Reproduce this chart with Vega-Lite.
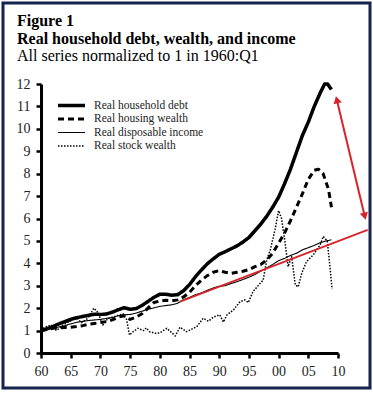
{
  "$schema": "https://vega.github.io/schema/vega-lite/v6.json",
  "width": 297,
  "height": 269,
  "autosize": "none",
  "padding": {"left": 41, "top": 84, "right": 35, "bottom": 41},
  "background": "white",
  "title": {
    "text": ["Figure 1", "Real household debt, wealth, and income"],
    "subtitle": "All series normalized to 1 in 1960:Q1",
    "anchor": "start",
    "frame": "group",
    "dx": -24,
    "dy": 64,
    "offset": 2,
    "font": "Liberation Serif",
    "fontSize": 16,
    "fontWeight": "bold",
    "lineHeight": 18,
    "color": "black",
    "subtitleFont": "Liberation Serif",
    "subtitleFontSize": 16,
    "subtitleColor": "black",
    "subtitlePadding": 1
  },
  "datasets": {
    "series": [
      {"series": "Real household debt", "year": 1960, "value": 1.0},
      {"series": "Real household debt", "year": 1961, "value": 1.08},
      {"series": "Real household debt", "year": 1962, "value": 1.18},
      {"series": "Real household debt", "year": 1963, "value": 1.3},
      {"series": "Real household debt", "year": 1964, "value": 1.4},
      {"series": "Real household debt", "year": 1965, "value": 1.5},
      {"series": "Real household debt", "year": 1966, "value": 1.57},
      {"series": "Real household debt", "year": 1967, "value": 1.63},
      {"series": "Real household debt", "year": 1968, "value": 1.68},
      {"series": "Real household debt", "year": 1969, "value": 1.73},
      {"series": "Real household debt", "year": 1970, "value": 1.72},
      {"series": "Real household debt", "year": 1971, "value": 1.74},
      {"series": "Real household debt", "year": 1972, "value": 1.82},
      {"series": "Real household debt", "year": 1973, "value": 1.93},
      {"series": "Real household debt", "year": 1974, "value": 2.02},
      {"series": "Real household debt", "year": 1975, "value": 1.95},
      {"series": "Real household debt", "year": 1976, "value": 1.98},
      {"series": "Real household debt", "year": 1977, "value": 2.12},
      {"series": "Real household debt", "year": 1978, "value": 2.3},
      {"series": "Real household debt", "year": 1979, "value": 2.48},
      {"series": "Real household debt", "year": 1980, "value": 2.62},
      {"series": "Real household debt", "year": 1981, "value": 2.62},
      {"series": "Real household debt", "year": 1982, "value": 2.58},
      {"series": "Real household debt", "year": 1983, "value": 2.6},
      {"series": "Real household debt", "year": 1984, "value": 2.78},
      {"series": "Real household debt", "year": 1985, "value": 3.05},
      {"series": "Real household debt", "year": 1986, "value": 3.4},
      {"series": "Real household debt", "year": 1987, "value": 3.7},
      {"series": "Real household debt", "year": 1988, "value": 3.98},
      {"series": "Real household debt", "year": 1989, "value": 4.2},
      {"series": "Real household debt", "year": 1990, "value": 4.4},
      {"series": "Real household debt", "year": 1991, "value": 4.52},
      {"series": "Real household debt", "year": 1992, "value": 4.65},
      {"series": "Real household debt", "year": 1993, "value": 4.78},
      {"series": "Real household debt", "year": 1994, "value": 4.95},
      {"series": "Real household debt", "year": 1995, "value": 5.15},
      {"series": "Real household debt", "year": 1996, "value": 5.45},
      {"series": "Real household debt", "year": 1997, "value": 5.75},
      {"series": "Real household debt", "year": 1998, "value": 6.1},
      {"series": "Real household debt", "year": 1999, "value": 6.5},
      {"series": "Real household debt", "year": 2000, "value": 6.95},
      {"series": "Real household debt", "year": 2001, "value": 7.55},
      {"series": "Real household debt", "year": 2002, "value": 8.2},
      {"series": "Real household debt", "year": 2003, "value": 8.95},
      {"series": "Real household debt", "year": 2004, "value": 9.7},
      {"series": "Real household debt", "year": 2005, "value": 10.3},
      {"series": "Real household debt", "year": 2006, "value": 11.0},
      {"series": "Real household debt", "year": 2007, "value": 11.6},
      {"series": "Real household debt", "year": 2007.75, "value": 12.0},
      {"series": "Real household debt", "year": 2008.25, "value": 12.0},
      {"series": "Real household debt", "year": 2008.9, "value": 11.75},

      {"series": "Real housing wealth", "year": 1960, "value": 1.0},
      {"series": "Real housing wealth", "year": 1961, "value": 1.05},
      {"series": "Real housing wealth", "year": 1962, "value": 1.1},
      {"series": "Real housing wealth", "year": 1963, "value": 1.12},
      {"series": "Real housing wealth", "year": 1964, "value": 1.14},
      {"series": "Real housing wealth", "year": 1965, "value": 1.15},
      {"series": "Real housing wealth", "year": 1966, "value": 1.18},
      {"series": "Real housing wealth", "year": 1967, "value": 1.22},
      {"series": "Real housing wealth", "year": 1968, "value": 1.28},
      {"series": "Real housing wealth", "year": 1969, "value": 1.32},
      {"series": "Real housing wealth", "year": 1970, "value": 1.36},
      {"series": "Real housing wealth", "year": 1971, "value": 1.4},
      {"series": "Real housing wealth", "year": 1972, "value": 1.48},
      {"series": "Real housing wealth", "year": 1973, "value": 1.6},
      {"series": "Real housing wealth", "year": 1974, "value": 1.66},
      {"series": "Real housing wealth", "year": 1975, "value": 1.5},
      {"series": "Real housing wealth", "year": 1976, "value": 1.6},
      {"series": "Real housing wealth", "year": 1977, "value": 1.75},
      {"series": "Real housing wealth", "year": 1978, "value": 2.0},
      {"series": "Real housing wealth", "year": 1979, "value": 2.25},
      {"series": "Real housing wealth", "year": 1980, "value": 2.32},
      {"series": "Real housing wealth", "year": 1981, "value": 2.35},
      {"series": "Real housing wealth", "year": 1982, "value": 2.33},
      {"series": "Real housing wealth", "year": 1983, "value": 2.37},
      {"series": "Real housing wealth", "year": 1984, "value": 2.5},
      {"series": "Real housing wealth", "year": 1985, "value": 2.7},
      {"series": "Real housing wealth", "year": 1986, "value": 3.0},
      {"series": "Real housing wealth", "year": 1987, "value": 3.25},
      {"series": "Real housing wealth", "year": 1988, "value": 3.45},
      {"series": "Real housing wealth", "year": 1989, "value": 3.6},
      {"series": "Real housing wealth", "year": 1990, "value": 3.68},
      {"series": "Real housing wealth", "year": 1991, "value": 3.6},
      {"series": "Real housing wealth", "year": 1992, "value": 3.55},
      {"series": "Real housing wealth", "year": 1993, "value": 3.6},
      {"series": "Real housing wealth", "year": 1994, "value": 3.65},
      {"series": "Real housing wealth", "year": 1995, "value": 3.72},
      {"series": "Real housing wealth", "year": 1996, "value": 3.85},
      {"series": "Real housing wealth", "year": 1997, "value": 3.95},
      {"series": "Real housing wealth", "year": 1998, "value": 4.15},
      {"series": "Real housing wealth", "year": 1999, "value": 4.45},
      {"series": "Real housing wealth", "year": 2000, "value": 4.9},
      {"series": "Real housing wealth", "year": 2001, "value": 5.35},
      {"series": "Real housing wealth", "year": 2002, "value": 5.9},
      {"series": "Real housing wealth", "year": 2003, "value": 6.5},
      {"series": "Real housing wealth", "year": 2004, "value": 7.1},
      {"series": "Real housing wealth", "year": 2005, "value": 7.75},
      {"series": "Real housing wealth", "year": 2006, "value": 8.15},
      {"series": "Real housing wealth", "year": 2006.7, "value": 8.2},
      {"series": "Real housing wealth", "year": 2007.5, "value": 8.0},
      {"series": "Real housing wealth", "year": 2008.4, "value": 7.3},
      {"series": "Real housing wealth", "year": 2008.9, "value": 6.5},

      {"series": "Real disposable income", "year": 1960, "value": 1.0},
      {"series": "Real disposable income", "year": 1962, "value": 1.1},
      {"series": "Real disposable income", "year": 1964, "value": 1.22},
      {"series": "Real disposable income", "year": 1965, "value": 1.3},
      {"series": "Real disposable income", "year": 1966, "value": 1.37},
      {"series": "Real disposable income", "year": 1968, "value": 1.45},
      {"series": "Real disposable income", "year": 1970, "value": 1.5},
      {"series": "Real disposable income", "year": 1972, "value": 1.58},
      {"series": "Real disposable income", "year": 1973, "value": 1.66},
      {"series": "Real disposable income", "year": 1974, "value": 1.7},
      {"series": "Real disposable income", "year": 1975, "value": 1.72},
      {"series": "Real disposable income", "year": 1976, "value": 1.78},
      {"series": "Real disposable income", "year": 1978, "value": 1.95},
      {"series": "Real disposable income", "year": 1980, "value": 2.08},
      {"series": "Real disposable income", "year": 1982, "value": 2.15},
      {"series": "Real disposable income", "year": 1983, "value": 2.22},
      {"series": "Real disposable income", "year": 1984, "value": 2.38},
      {"series": "Real disposable income", "year": 1985, "value": 2.48},
      {"series": "Real disposable income", "year": 1986, "value": 2.6},
      {"series": "Real disposable income", "year": 1987, "value": 2.68},
      {"series": "Real disposable income", "year": 1988, "value": 2.8},
      {"series": "Real disposable income", "year": 1989, "value": 2.9},
      {"series": "Real disposable income", "year": 1990, "value": 2.98},
      {"series": "Real disposable income", "year": 1991, "value": 3.0},
      {"series": "Real disposable income", "year": 1992, "value": 3.1},
      {"series": "Real disposable income", "year": 1993, "value": 3.18},
      {"series": "Real disposable income", "year": 1994, "value": 3.28},
      {"series": "Real disposable income", "year": 1995, "value": 3.38},
      {"series": "Real disposable income", "year": 1996, "value": 3.5},
      {"series": "Real disposable income", "year": 1997, "value": 3.65},
      {"series": "Real disposable income", "year": 1998, "value": 3.8},
      {"series": "Real disposable income", "year": 1999, "value": 3.95},
      {"series": "Real disposable income", "year": 2000, "value": 4.12},
      {"series": "Real disposable income", "year": 2001, "value": 4.22},
      {"series": "Real disposable income", "year": 2002, "value": 4.35},
      {"series": "Real disposable income", "year": 2003, "value": 4.45},
      {"series": "Real disposable income", "year": 2004, "value": 4.6},
      {"series": "Real disposable income", "year": 2005, "value": 4.7},
      {"series": "Real disposable income", "year": 2006, "value": 4.8},
      {"series": "Real disposable income", "year": 2007, "value": 4.92},
      {"series": "Real disposable income", "year": 2008, "value": 5.0},
      {"series": "Real disposable income", "year": 2008.9, "value": 5.05},

      {"series": "Real stock wealth", "year": 1960, "value": 1.0},
      {"series": "Real stock wealth", "year": 1960.6, "value": 1.15},
      {"series": "Real stock wealth", "year": 1961.7, "value": 1.25},
      {"series": "Real stock wealth", "year": 1962.6, "value": 1.0},
      {"series": "Real stock wealth", "year": 1963.7, "value": 1.25},
      {"series": "Real stock wealth", "year": 1965.1, "value": 1.45},
      {"series": "Real stock wealth", "year": 1965.9, "value": 1.6},
      {"series": "Real stock wealth", "year": 1966.8, "value": 1.35},
      {"series": "Real stock wealth", "year": 1967.9, "value": 1.55},
      {"series": "Real stock wealth", "year": 1968.9, "value": 2.0},
      {"series": "Real stock wealth", "year": 1969.6, "value": 1.8},
      {"series": "Real stock wealth", "year": 1970.4, "value": 1.25},
      {"series": "Real stock wealth", "year": 1971.3, "value": 1.55},
      {"series": "Real stock wealth", "year": 1972.7, "value": 1.65},
      {"series": "Real stock wealth", "year": 1973.8, "value": 1.75},
      {"series": "Real stock wealth", "year": 1974.4, "value": 1.5},
      {"series": "Real stock wealth", "year": 1974.9, "value": 0.8},
      {"series": "Real stock wealth", "year": 1975.5, "value": 0.95},
      {"series": "Real stock wealth", "year": 1976.3, "value": 1.1},
      {"series": "Real stock wealth", "year": 1977.3, "value": 1.0},
      {"series": "Real stock wealth", "year": 1977.7, "value": 1.12},
      {"series": "Real stock wealth", "year": 1978.3, "value": 0.95},
      {"series": "Real stock wealth", "year": 1979.2, "value": 0.88},
      {"series": "Real stock wealth", "year": 1980, "value": 0.9},
      {"series": "Real stock wealth", "year": 1981.2, "value": 1.1},
      {"series": "Real stock wealth", "year": 1982.6, "value": 0.76},
      {"series": "Real stock wealth", "year": 1983.4, "value": 1.15},
      {"series": "Real stock wealth", "year": 1984.5, "value": 0.95},
      {"series": "Real stock wealth", "year": 1986.2, "value": 1.17},
      {"series": "Real stock wealth", "year": 1987.3, "value": 1.55},
      {"series": "Real stock wealth", "year": 1988.2, "value": 1.42},
      {"series": "Real stock wealth", "year": 1989, "value": 1.6},
      {"series": "Real stock wealth", "year": 1990.1, "value": 1.7},
      {"series": "Real stock wealth", "year": 1990.7, "value": 1.38},
      {"series": "Real stock wealth", "year": 1991.3, "value": 1.7},
      {"series": "Real stock wealth", "year": 1992.4, "value": 1.92},
      {"series": "Real stock wealth", "year": 1993.5, "value": 2.29},
      {"series": "Real stock wealth", "year": 1994.3, "value": 2.37},
      {"series": "Real stock wealth", "year": 1994.9, "value": 2.25},
      {"series": "Real stock wealth", "year": 1995.7, "value": 2.74},
      {"series": "Real stock wealth", "year": 1996.9, "value": 3.11},
      {"series": "Real stock wealth", "year": 1997.4, "value": 3.25},
      {"series": "Real stock wealth", "year": 1998, "value": 4.15},
      {"series": "Real stock wealth", "year": 1998.6, "value": 4.6},
      {"series": "Real stock wealth", "year": 1999.4, "value": 5.5},
      {"series": "Real stock wealth", "year": 2000, "value": 6.35},
      {"series": "Real stock wealth", "year": 2000.5, "value": 6.0},
      {"series": "Real stock wealth", "year": 2001.1, "value": 4.9},
      {"series": "Real stock wealth", "year": 2001.6, "value": 3.85},
      {"series": "Real stock wealth", "year": 2002.2, "value": 4.3},
      {"series": "Real stock wealth", "year": 2002.8, "value": 3.04},
      {"series": "Real stock wealth", "year": 2003.3, "value": 2.95},
      {"series": "Real stock wealth", "year": 2003.9, "value": 3.56},
      {"series": "Real stock wealth", "year": 2004.7, "value": 4.08},
      {"series": "Real stock wealth", "year": 2005.8, "value": 4.37},
      {"series": "Real stock wealth", "year": 2007, "value": 4.82},
      {"series": "Real stock wealth", "year": 2007.5, "value": 5.2},
      {"series": "Real stock wealth", "year": 2008.2, "value": 5.0},
      {"series": "Real stock wealth", "year": 2008.7, "value": 3.7},
      {"series": "Real stock wealth", "year": 2009, "value": 2.85}
    ],
    "trend": [
      {"year": 1983.4, "value": 2.29},
      {"year": 2015, "value": 5.49}
    ],
    "arrow": [
      {"year": 2009.8, "value": 11.3, "year2": 2014.5, "value2": 6.1}
    ],
    "heads": [
      {"end": "top", "year": 2009.8, "value": 11.3},
      {"end": "bottom", "year": 2014.5, "value": 6.1}
    ]
  },
  "layer": [
    {
      "data": {"values": [{}]},
      "mark": {
        "type": "rect",
        "x": -38,
        "x2": {"expr": "width + 32"},
        "y": -81,
        "y2": {"expr": "height + 35"},
        "fill": null,
        "stroke": "#14234f",
        "strokeWidth": 3
      },
      "encoding": {}
    },
    {
      "data": {"name": "series"},
      "mark": {"type": "line", "color": "black", "strokeCap": "butt", "strokeJoin": "round"},
      "encoding": {
        "x": {
          "field": "year",
          "type": "quantitative",
          "scale": {"domain": [1960, 2010], "nice": false, "zero": false},
          "axis": {
            "values": [1960, 1965, 1970, 1975, 1980, 1985, 1990, 1995, 2000, 2005, 2010],
            "labelExpr": "substring(toString(datum.value), 2, 4)",
            "labelOverlap": false,
            "title": null
          }
        },
        "y": {
          "field": "value",
          "type": "quantitative",
          "scale": {"domain": [0, 12], "nice": false},
          "axis": {
            "values": [0, 1, 2, 3, 4, 5, 6, 7, 8, 9, 10, 11, 12],
            "labelOverlap": false,
            "title": null
          }
        },
        "strokeDash": {
          "field": "series",
          "type": "nominal",
          "scale": {
            "domain": ["Real household debt", "Real housing wealth", "Real disposable income", "Real stock wealth"],
            "range": [[1, 0], [6, 4], [1, 0], [1.5, 1.5]]
          },
          "legend": {"title": null}
        },
        "strokeWidth": {
          "field": "series",
          "type": "nominal",
          "scale": {
            "type": "ordinal",
            "domain": ["Real household debt", "Real housing wealth", "Real disposable income", "Real stock wealth"],
            "range": [3.5, 3, 1.1, 1.5]
          },
          "legend": {"title": null}
        }
      }
    },
    {
      "data": {"name": "trend"},
      "mark": {"type": "line", "color": "#d8232a", "strokeWidth": 1.8},
      "encoding": {
        "x": {
          "field": "year",
          "type": "quantitative",
          "scale": {"domain": [1960, 2010], "nice": false, "zero": false},
          "axis": {
            "values": [1960, 1965, 1970, 1975, 1980, 1985, 1990, 1995, 2000, 2005, 2010],
            "labelExpr": "substring(toString(datum.value), 2, 4)",
            "labelOverlap": false,
            "title": null
          }
        },
        "y": {
          "field": "value",
          "type": "quantitative",
          "scale": {"domain": [0, 12], "nice": false},
          "axis": {
            "values": [0, 1, 2, 3, 4, 5, 6, 7, 8, 9, 10, 11, 12],
            "labelOverlap": false,
            "title": null
          }
        }
      }
    },
    {
      "data": {"name": "arrow"},
      "mark": {"type": "rule", "color": "#d8232a", "strokeWidth": 2},
      "encoding": {
        "x": {
          "field": "year",
          "type": "quantitative",
          "scale": {"domain": [1960, 2010], "nice": false, "zero": false},
          "axis": {
            "values": [1960, 1965, 1970, 1975, 1980, 1985, 1990, 1995, 2000, 2005, 2010],
            "labelExpr": "substring(toString(datum.value), 2, 4)",
            "labelOverlap": false,
            "title": null
          }
        },
        "y": {
          "field": "value",
          "type": "quantitative",
          "scale": {"domain": [0, 12], "nice": false},
          "axis": {
            "values": [0, 1, 2, 3, 4, 5, 6, 7, 8, 9, 10, 11, 12],
            "labelOverlap": false,
            "title": null
          }
        },
        "x2": {"field": "year2"},
        "y2": {"field": "value2"}
      }
    },
    {
      "data": {"name": "heads"},
      "mark": {"type": "point", "filled": true, "color": "#d8232a", "opacity": 1, "angle": 346, "size": 70},
      "encoding": {
        "x": {
          "field": "year",
          "type": "quantitative",
          "scale": {"domain": [1960, 2010], "nice": false, "zero": false},
          "axis": {
            "values": [1960, 1965, 1970, 1975, 1980, 1985, 1990, 1995, 2000, 2005, 2010],
            "labelExpr": "substring(toString(datum.value), 2, 4)",
            "labelOverlap": false,
            "title": null
          }
        },
        "y": {
          "field": "value",
          "type": "quantitative",
          "scale": {"domain": [0, 12], "nice": false},
          "axis": {
            "values": [0, 1, 2, 3, 4, 5, 6, 7, 8, 9, 10, 11, 12],
            "labelOverlap": false,
            "title": null
          }
        },
        "shape": {
          "field": "end",
          "type": "nominal",
          "scale": {"domain": ["top", "bottom"], "range": ["triangle-up", "triangle-down"]},
          "legend": null
        }
      }
    }
  ],
  "config": {
    "view": {"stroke": null},
    "axis": {
      "grid": false,
      "domainColor": "black",
      "domainWidth": 3,
      "tickColor": "black",
      "tickWidth": 2.5,
      "tickSize": 5,
      "labelFont": "Liberation Serif",
      "labelFontSize": 14,
      "labelColor": "#222",
      "labelPadding": 6,
      "labelOverlap": false,
      "labelBound": false,
      "labelFlush": false
    },
    "legend": {
      "orient": "none",
      "legendX": 15,
      "legendY": 15.5,
      "padding": 0,
      "symbolType": "stroke",
      "symbolSize": 729,
      "symbolStrokeColor": "black",
      "labelFont": "Liberation Serif",
      "labelFontSize": 11.5,
      "labelColor": "#222",
      "labelOffset": 7,
      "clipHeight": 12,
      "rowPadding": 1.5
    }
  }
}
